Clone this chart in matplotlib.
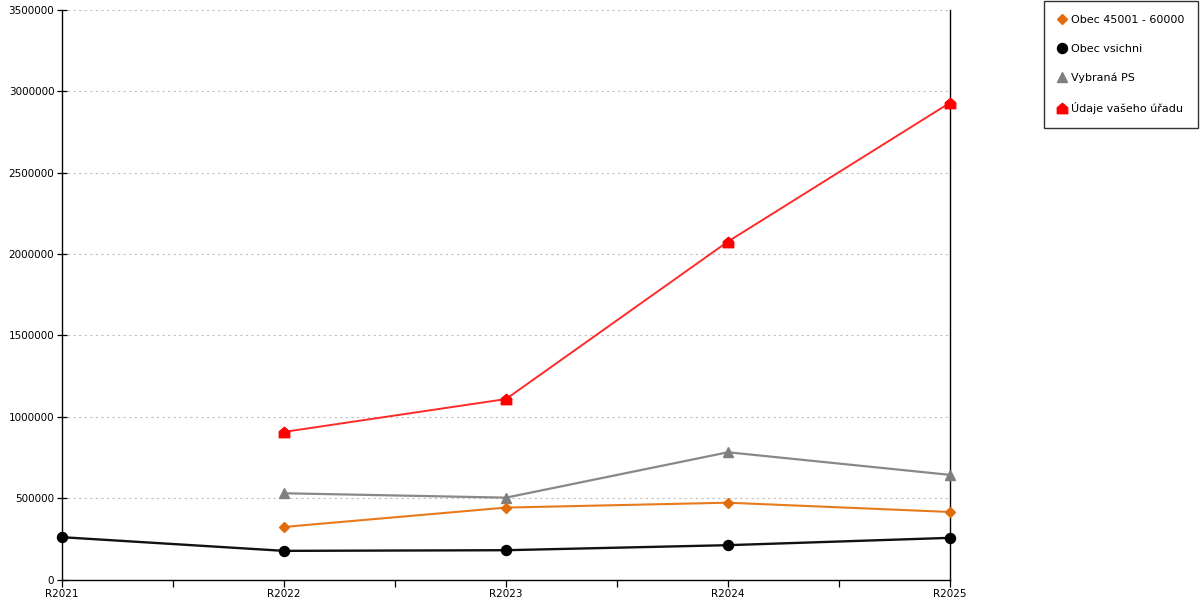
import numpy as np
import matplotlib.pyplot as plt
from matplotlib.path import Path
from matplotlib.ticker import MultipleLocator

years = ['R2021', 'R2022', 'R2023', 'R2024', 'R2025']

obec_45001 = [np.nan, 323000, 442000, 472000, 415000]
obec_vsichni = [260000, 176000, 180000, 211000, 256000]
vybrana_ps = [np.nan, 530000, 503000, 782000, 643000]
udaje_uradu = [np.nan, 907000, 1109000, 2077000, 2930000]

# house shaped marker for the red series
house = Path([(-1, -1), (1, -1), (1, 0.15), (0, 1), (-1, 0.15), (-1, -1)],
             [Path.MOVETO, Path.LINETO, Path.LINETO, Path.LINETO, Path.LINETO, Path.CLOSEPOLY])

plt.rcParams['font.family'] = 'DejaVu Sans'

fig = plt.figure(figsize=(12, 6), dpi=100)
ax = fig.add_axes([62 / 1200, 20.5 / 600, 888 / 1200, 569.5 / 600])

x = np.arange(len(years))

ax.plot(x, obec_vsichni, color='#111111', lw=1.7, marker='o', ms=7.2,
        mfc='black', mec='black', clip_on=False, zorder=4, label='Obec vsichni')
ax.plot(x, vybrana_ps, color='#888888', lw=1.6, marker='^', ms=7.5,
        mfc='#7f7f7f', mec='#7f7f7f', clip_on=False, zorder=4, label='Vybraná PS')
ax.plot(x, obec_45001, color='#E87A1E', lw=1.5, marker='D', ms=5.3,
        mfc='#E36C0A', mec='#E36C0A', clip_on=False, zorder=5, label='Obec 45001 - 60000')
ax.plot(x, udaje_uradu, color='#FF2A2A', lw=1.4, marker=house, ms=7.5,
        mfc='red', mec='red', clip_on=False, zorder=4, label='Údaje vašeho úřadu')

ax.set_xlim(0, 4)
ax.set_ylim(0, 3500000)
ax.set_xticks(x)
ax.set_xticklabels(years)
ax.xaxis.set_minor_locator(MultipleLocator(0.5))
ax.yaxis.set_major_locator(MultipleLocator(500000))
ax.ticklabel_format(axis='y', style='plain', useOffset=False)

ax.tick_params(axis='both', which='both', labelsize=7.5, width=0.9, color='black')
ax.tick_params(axis='x', which='both', direction='out', length=5, pad=2)
ax.tick_params(axis='y', which='major', direction='inout', length=7, pad=2)

ax.grid(axis='y', color='#c0c0c0', linestyle=(0, (2, 3)), linewidth=0.8)
ax.set_axisbelow(True)

ax.spines['top'].set_visible(False)
for s in ['left', 'bottom', 'right']:
    ax.spines[s].set_linewidth(1.0)
    ax.spines[s].set_color('black')

handles, labels = ax.get_legend_handles_labels()
order = [2, 0, 1, 3]
leg_handles = []
for i in order:
    h = handles[i]
    leg_handles.append(plt.Line2D([], [], linestyle='none', marker=h.get_marker(),
                                  ms=h.get_markersize(), mfc=h.get_mfc(), mec=h.get_mec()))
leg = fig.legend(leg_handles, [labels[i] for i in order], loc='upper right',
                 bbox_to_anchor=(1198 / 1200, 599 / 600), fontsize=8.0, frameon=True,
                 fancybox=False, edgecolor='black', labelspacing=1.7, handlelength=0.8,
                 handletextpad=0.4, borderpad=1.25, borderaxespad=0)
leg.get_frame().set_linewidth(1.0)

plt.savefig('out.png', dpi=100)
plt.close()
